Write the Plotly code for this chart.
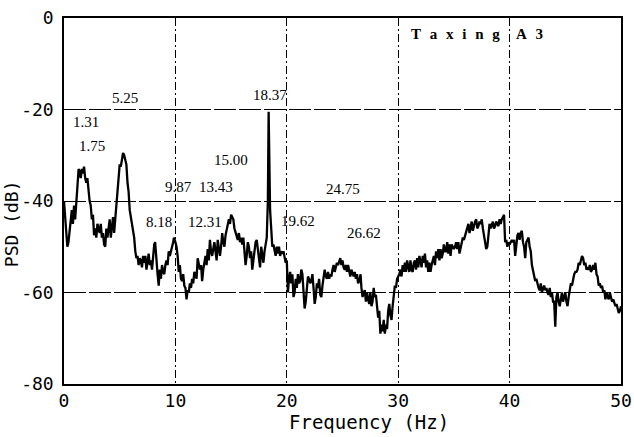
import numpy as np
import plotly.graph_objects as go

# Power spectral density, sampled every 0.1 Hz from 0 to 50 Hz (dB), one row per Hz
freq_step = 0.1
psd_db = [
    -40, -44, -47, -50, -49, -47, -44, -42, -45, -41,
    -44, -39, -37, -34, -33.5, -35, -33, -34, -32.5, -35,
    -36, -35, -38, -40, -41, -44, -43, -47.5, -46, -48,
    -45, -46, -47, -45, -48, -47, -49.5, -50, -46, -48,
    -45, -44, -48, -46, -43.5, -47, -44, -41, -37, -35,
    -32, -32.5, -30.5, -29.5, -30, -31, -32, -36, -38, -42,
    -43.5, -45, -47, -48, -51, -52.5, -52, -54, -52.5, -53,
    -54.5, -52, -53.5, -52, -55, -53, -51.5, -54, -53, -55,
    -52, -49.5, -49, -54, -56, -58.5, -55, -57, -54, -55.5,
    -56, -54, -53, -54, -51, -52, -50.5, -50, -49, -48.5,
    -49, -50, -52, -55.5, -54, -57, -57.5, -56, -58.5, -59,
    -61.5, -59.5, -60, -58, -59, -57, -58, -55.5, -56, -57,
    -52.5, -54, -55, -54, -57.5, -55, -53, -52, -54, -50.5,
    -53, -48.5, -51, -52, -50, -49, -51, -53, -48.5, -50,
    -52, -50, -47, -49, -50, -47.5, -46, -44.5, -44, -45,
    -43, -43.5, -44, -46, -47, -47.5, -48.5, -47, -49, -48,
    -49.5, -48, -51, -54, -52, -49, -50, -52.5, -51, -55,
    -53, -50, -49, -48.5, -51, -52, -54.5, -50, -52, -53.5,
    -51, -49, -48, -40, -40, -42, -47, -50, -49.5, -51,
    -52, -50, -51.5, -50, -52, -51, -53, -51, -52, -53.5,
    -53, -60, -57, -55.5, -58, -56, -61, -60, -57, -59,
    -56, -58, -57.5, -55, -56, -60, -63.5, -62, -58, -56.5,
    -57, -58, -57.5, -56, -59, -62.5, -61, -58, -59, -57,
    -60.5, -61, -58.5, -56, -55, -56.5, -57, -55.5, -57, -56,
    -56.5, -55, -54, -55.5, -54.5, -53.5, -54, -53, -52.5, -54,
    -53, -54.5, -55, -54, -55.5, -54, -55, -56.5, -55, -56,
    -56.5, -55.5, -57, -56, -58, -57.5, -56, -59, -61, -60,
    -59.5, -62, -60, -61.5, -62.5, -60, -63, -62, -59, -61,
    -60.5, -63, -65.5, -64, -69, -67, -68.5, -66, -69, -67,
    -68, -64, -62.5, -65, -66, -63, -60, -58.5, -59, -57,
    -56.5, -56, -55, -56.5, -54, -55.5, -53.5, -55.5, -53, -54.5,
    -55.5, -53, -55, -55.5, -53.5, -53, -55, -52.5, -54.5, -52,
    -53.5, -54.5, -52, -53.5, -51.5, -54.5, -53, -55.5, -53.5, -55.5,
    -54, -52.5, -52, -54, -51, -52.5, -50.5, -53, -50.5, -52.5,
    -51.5, -49.5, -51, -51, -49, -51.5, -49.5, -52, -49.5, -50,
    -50.5, -50, -49, -50.5, -49, -51.5, -50, -49.5, -48, -48.5,
    -47.5, -46.5, -46, -45, -47, -46, -44.5, -46.5, -45, -44.5,
    -44, -46, -45.5, -44.5, -45, -44, -46, -47.5, -49, -50.5,
    -50, -48, -45, -46, -45, -44.5, -46, -45.5, -44.5, -45,
    -45.5, -44, -45, -44, -43.5, -43, -49, -48.5, -50, -49,
    -49.5, -49, -48.5, -49, -48.5, -52, -50, -47.5, -47, -48.5,
    -47, -46.5, -49, -50, -52.5, -49, -48.5, -48, -50, -51,
    -54, -55, -56, -57.5, -57, -58.5, -59, -59.5, -58, -60,
    -59, -58.5, -59.5, -59, -60, -60.5, -59, -61, -60, -62,
    -62, -67.5, -61, -60, -62, -63, -61.5, -60, -62, -61,
    -60, -62, -63, -61, -59, -58, -58.5, -57, -56, -55.5,
    -55.5, -55, -53.5, -54, -53, -52, -52.5, -54, -53.5, -55,
    -54.5, -55, -54, -55.5, -55, -54, -55, -53.5, -56, -56.5,
    -58.5, -58, -59, -58.5, -60, -59.5, -61.5, -60, -61, -61.5,
    -60, -61, -62, -61.5, -62.5, -63, -62.5, -64, -64.5, -64,
    -63,
]

# Labelled spectral peaks: frequency (Hz) and level (dB)
peak_freq = [1.31, 1.75, 5.25, 8.18, 9.87, 12.31, 13.43, 15.00, 18.37, 19.62, 24.75, 26.62]
peak_db = [-33, -33, -29.5, -49, -48, -54, -50, -43, -20.5, -51.5, -53, -56]

x_ticks = [0, 10, 20, 30, 40, 50]
y_ticks = [0, -20, -40, -60, -80]

# Merge the regular grid with the peak samples
freq = np.round(np.arange(len(psd_db)) * freq_step, 2)
level = np.array(psd_db, dtype=float)
keep = np.array([all(abs(f - p) > 0.04 for p in peak_freq) for f in freq])
f_all = np.concatenate([freq[keep], peak_freq])
d_all = np.concatenate([level[keep], peak_db])
order = np.argsort(f_all)
f_all, d_all = f_all[order], d_all[order]

fig = go.Figure()
fig.add_trace(go.Scatter(
    x=f_all, y=d_all, mode="lines",
    line=dict(color="black", width=2.3),
    hoverinfo="skip", showlegend=False,
))

# Peak label placement (Hz, dB) for each labelled peak
label_xy = [
    (1.98, -22.7), (2.5, -28.0), (5.48, -17.5), (8.54, -44.6),
    (10.24, -36.9), (12.67, -44.6), (13.66, -36.9), (15.0, -31.0),
    (18.5, -16.8), (21.0, -44.3), (25.07, -37.4), (26.9, -47.0),
]
serif = "Liberation Serif"
for pf, (lx, ly) in zip(peak_freq, label_xy):
    fig.add_annotation(
        x=lx, y=ly, xref="x", yref="y", text=f"{pf:.2f}",
        showarrow=False, font=dict(family=serif, size=15, color="black"),
        xanchor="center", yanchor="middle",
    )

# Case identifier in the upper right cell
gap = "\u2002\u200a"
fig.add_annotation(
    x=39.3, y=-3.4, xref="x", yref="y", text="<b>" + gap.join("Taxing") + "</b>",
    showarrow=False, font=dict(family=serif, size=15, color="black"),
    xanchor="right", yanchor="middle",
)
fig.add_annotation(
    x=40.4, y=-3.4, xref="x", yref="y", text="<b>" + gap.join("A3") + "</b>",
    showarrow=False, font=dict(family=serif, size=15, color="black"),
    xanchor="left", yanchor="middle",
)

mono = "DejaVu Sans Mono"
fig.add_annotation(
    x=(369 - 64) / 557, y=-0.105, xref="paper", yref="paper",
    text="Frequency (Hz)", showarrow=False,
    font=dict(family=mono, size=19, color="black"),
    xanchor="center", yanchor="middle",
)
fig.add_annotation(
    x=-0.093, y=(384 - 224) / 366, xref="paper", yref="paper",
    text="PSD (dB)", textangle=-90, showarrow=False,
    font=dict(family=mono, size=18, color="black"),
    xanchor="center", yanchor="middle",
)

axis_common = dict(
    showline=True, linecolor="black", linewidth=1.5, mirror=True,
    ticks="", zeroline=False, showgrid=True, gridcolor="black",
    automargin=False,
    tickfont=dict(family=mono, size=18, color="black"),
)
fig.update_xaxes(
    range=[0, 50], tickvals=x_ticks, ticktext=[str(v) for v in x_ticks],
    griddash="8px,3px,2px,3px", gridwidth=0.8, **axis_common,
)
fig.update_yaxes(
    range=[-80, 0], tickvals=y_ticks, ticktext=[str(v) for v in y_ticks],
    griddash="22px,3px", gridwidth=1, ticklabelstandoff=5, **axis_common,
)

fig.update_layout(
    width=634, height=437,
    margin=dict(l=64, r=13, t=18, b=53),
    paper_bgcolor="white", plot_bgcolor="white",
)

fig.write_html("out.html")
